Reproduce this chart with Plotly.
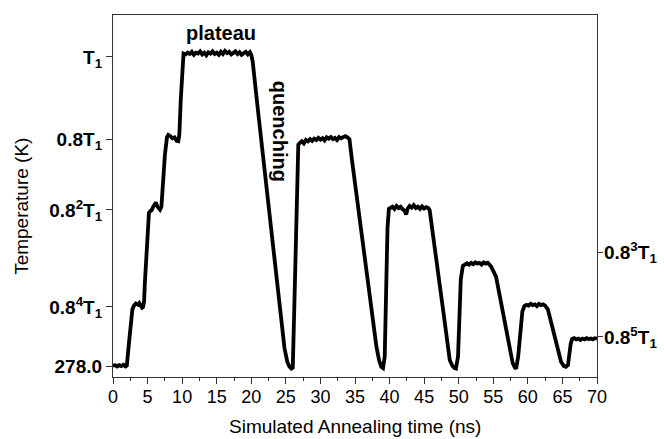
import plotly.graph_objects as go

# Simulated annealing temperature profile (time in ns, temperature in K)
time_ns = [
    0.0, 0.3, 0.6, 0.9, 1.2, 1.5, 1.8, 2.0,
    2.3, 2.6, 2.8,
    3.0, 3.3, 3.6, 3.8, 4.0, 4.2, 4.35, 4.5,
    4.6, 4.8, 5.0, 5.2,
    5.4, 5.6, 5.8, 6.0, 6.2, 6.4, 6.6, 6.8, 7.0,
    7.2, 7.5, 7.8,
    8.0, 8.3, 8.6, 8.9, 9.2, 9.45, 9.6,
    9.8, 10.0, 10.2,
    10.5, 10.8, 11.1, 11.4, 11.7, 12.0, 12.3, 12.6, 12.9, 13.2, 13.5, 13.8, 14.1, 14.4,
    14.7, 15.0, 15.3, 15.6, 15.9, 16.2, 16.5, 16.8, 17.1, 17.4, 17.7, 18.0, 18.3, 18.6,
    18.9, 19.2, 19.5, 19.8, 20.0,
    20.2, 21.0, 22.0, 22.7, 23.5, 24.3, 24.8, 25.2, 25.5, 25.8, 26.0,
    26.2, 26.4, 26.6, 26.8,
    27.0, 27.3, 27.6, 27.9, 28.2, 28.5, 28.8, 29.1, 29.4, 29.7, 30.0, 30.3, 30.6, 30.9,
    31.2, 31.5, 31.8, 32.1, 32.4, 32.7, 33.0, 33.3, 33.6, 33.9, 34.2,
    34.5, 35.5, 36.5, 37.3, 38.1, 38.5, 38.8, 39.05,
    39.3, 39.5, 39.7, 39.9,
    40.1, 40.4, 40.7, 41.0, 41.3, 41.6, 41.9, 42.2, 42.4, 42.6, 42.9, 43.2, 43.5, 43.8,
    44.1, 44.4, 44.7, 45.0, 45.3, 45.6, 45.8,
    46.2, 47.0, 47.9, 48.7, 49.1, 49.4, 49.6,
    49.9, 50.1, 50.3, 50.6,
    50.9, 51.2, 51.5, 51.8, 52.1, 52.4, 52.7, 53.0, 53.3, 53.6, 53.9, 54.2, 54.5, 54.7,
    55.4, 56.2, 57.0, 57.8, 58.1, 58.3,
    58.6, 58.9, 59.2, 59.5,
    59.8, 60.1, 60.4, 60.7, 61.0, 61.3, 61.6, 61.9, 62.2, 62.5, 62.7,
    62.9, 63.8, 64.8, 65.2, 65.5, 65.8,
    66.0, 66.2, 66.4,
    66.7, 67.0, 67.3, 67.6, 67.9, 68.2, 68.5, 68.8, 69.1, 69.4, 69.7, 70.0,
]
temperature_K = [
    279, 280, 277, 280, 278, 281, 277, 279,
    330, 395, 410,
    418, 424, 421, 425, 419, 414, 416, 430,
    470, 540, 600, 636,
    640, 642, 650, 655, 660, 651, 645, 643, 650,
    700, 770, 812,
    818, 815, 810, 812, 804, 803, 820,
    900, 980, 1008,
    1006, 1010, 1007, 1012, 1005, 1010, 1008, 1013, 1006, 1010, 1004, 1011, 1008, 1013,
    1007, 1010, 1005, 1012, 1007, 1014, 1009, 1012, 1006, 1010, 1013, 1007, 1011, 1005,
    1009, 1012, 1006, 1011, 1005,
    990, 870, 728, 626, 506, 388, 320, 288, 277, 272, 274,
    400, 560, 720, 795,
    799, 803, 798, 806, 803, 808, 804, 809, 806, 811, 807, 810, 805, 812,
    809, 813, 808, 811, 806, 813, 810, 812, 815, 812, 808,
    767, 640, 520, 420, 323, 290, 276, 273,
    300, 450, 600, 645,
    648, 650, 645, 652, 647, 650, 644, 640, 632, 645, 652, 648, 654, 647,
    650, 645, 651, 646, 649, 647, 642,
    596, 500, 390, 292, 278, 273, 272,
    300, 400, 480, 512,
    514, 518, 515, 519, 516, 520, 517, 519, 515, 520, 517, 519, 514, 510,
    487, 420, 350, 285, 275, 272,
    300, 360, 405, 418,
    421, 419, 423, 420, 422, 418, 423, 420, 422, 419, 414,
    410, 352, 288, 278, 276, 280,
    310, 330, 341,
    343, 340, 342, 339, 342, 340, 343, 341, 342, 340, 343, 342,
]

# Axis ticks
x_ticks = [0, 5, 10, 15, 20, 25, 30, 35, 40, 45, 50, 55, 60, 65, 70]
left_tick_vals = [278.0, 416, 642.5, 808, 1000]
left_tick_text = ["278.0", "0.8<sup>4</sup>T<sub>1</sub>", "0.8<sup>2</sup>T<sub>1</sub>",
                  "0.8T<sub>1</sub>", "T<sub>1</sub>"]
right_tick_vals = [544, 346]
right_tick_text = ["0.8<sup>3</sup>T<sub>1</sub>", "0.8<sup>5</sup>T<sub>1</sub>"]
y_range = [252.3, 1098]

FONT = "Arial, Liberation Sans, sans-serif"
LINE = "#333333"

fig = go.Figure()
fig.add_trace(go.Scatter(x=time_ns, y=temperature_K, mode="lines",
                         line=dict(color="black", width=3.8), showlegend=False,
                         hoverinfo="skip"))
fig.add_trace(go.Scatter(x=[], y=[], yaxis="y2", showlegend=False))

fig.update_layout(
    width=664, height=439,
    margin=dict(l=113, r=67, t=15, b=62, autoexpand=False),
    paper_bgcolor="white", plot_bgcolor="white",
    font=dict(family=FONT, color="black"),
    xaxis=dict(range=[0, 70], tickmode="array", tickvals=x_ticks, automargin=False,
               ticks="outside", ticklen=6, tickwidth=1.2, tickcolor=LINE,
               ticklabelstandoff=-3,
               minor=dict(dtick=2.5, tick0=0, ticks="outside", ticklen=3, tickcolor=LINE, tickwidth=1.2),
               showline=True, linecolor=LINE, linewidth=1.3, mirror=True,
               showgrid=False, zeroline=False,
               tickfont=dict(size=18, family=FONT)),
    yaxis=dict(range=y_range, tickmode="array", tickvals=left_tick_vals, ticktext=left_tick_text,
               automargin=False,
               ticks="outside", ticklen=6, tickwidth=1.2, tickcolor=LINE,
               showline=True, linecolor=LINE, linewidth=1.3, mirror=True,
               showgrid=False, zeroline=False,
               tickfont=dict(size=19, family=FONT, weight="bold")),
    yaxis2=dict(range=y_range, overlaying="y", side="right", tickmode="array",
                tickvals=right_tick_vals, ticktext=right_tick_text, automargin=False,
                ticks="outside", ticklen=5, tickwidth=1.2, tickcolor=LINE,
                ticklabelstandoff=-3,
                showline=True, linecolor=LINE, linewidth=1.3,
                showgrid=False, zeroline=False,
                tickfont=dict(size=19, family=FONT, weight="bold")),
    annotations=[
        dict(text="plateau", x=15.6, y=1057, xref="x", yref="y", showarrow=False,
             font=dict(size=20, family=FONT, weight="bold")),
        dict(text="quenching", x=24.1, y=826, xref="x", yref="y", showarrow=False,
             textangle=90, font=dict(size=20, family=FONT, weight="bold")),
        dict(text="Simulated Annealing time (ns)", x=0.5, y=-0.137, xref="paper", yref="paper",
             showarrow=False, xanchor="center", yanchor="middle",
             font=dict(size=19, family=FONT)),
        dict(text="Temperature (K)", x=-0.188, y=0.47, xref="paper", yref="paper",
             showarrow=False, textangle=-90, xanchor="center", yanchor="middle",
             font=dict(size=19, family=FONT)),
    ],
)

fig.write_html("out.html", config={"displayModeBar": False},
               post_script="document.body.style.margin='0';")
